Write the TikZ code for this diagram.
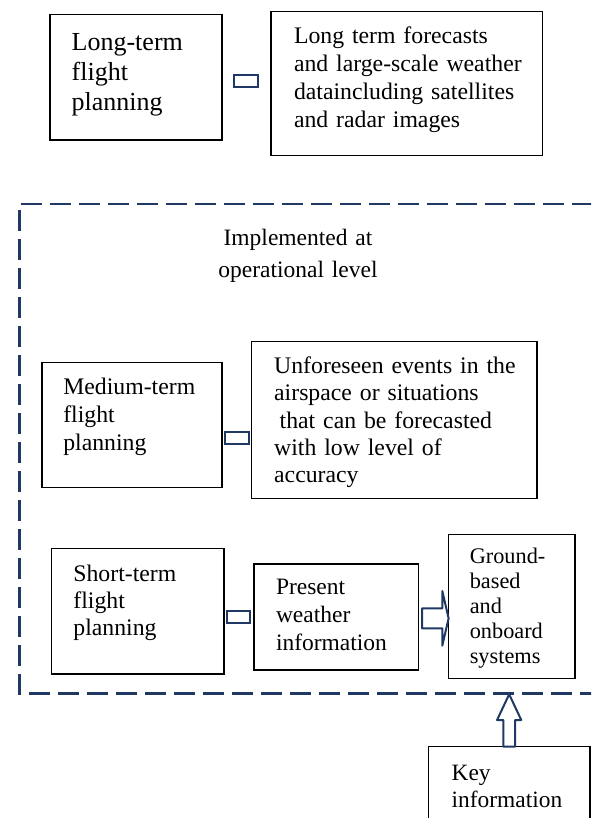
\documentclass[tikz,border=0pt]{standalone}
\usepackage{fontspec}
\setmainfont{Liberation Serif}
\usetikzlibrary{calc}
\definecolor{navy}{HTML}{203864}
\newcommand{\setfs}[2]{\fontsize{#1}{#2}\selectfont}
\tikzset{
  box/.style={draw=black, line width=1.5pt, rectangle, inner ysep=0pt, outer sep=0pt, align=left},
  linkbar/.style={draw=navy, line width=2pt, fill=white, rectangle, inner sep=0pt, outer sep=0pt},
  blockarrow/.style={draw=navy, line width=2pt, fill=white, line join=round},
  framelin/.style={draw=navy, line width=2.5pt, dash pattern=on 21pt off 8pt},
}
\begin{document}
\begin{tikzpicture}[x=1pt,y=-1pt]
\useasboundingbox (0,0) rectangle (591,818);
\clip (0,0) rectangle (591,818);

% dashed frame
\coordinate (ftl) at (20.5,204);
\coordinate (ftr) at (600,204);
\coordinate (flt) at (19.5,210);
\coordinate (fbl) at (19.5,693.3);
\coordinate (fbr) at (600,693.3);
\draw[framelin] (ftl) -- (ftr);
\draw[framelin] (flt) -- (fbl) -- (fbr);

\node[font=\setfs{23.5}{32.3}, text width=200pt, align=center, inner sep=0pt, anchor=base] (impl) at (298,245) {Implemented at\\operational level};

% boxes
\node[box, minimum width=172pt, minimum height=125.3pt, inner xsep=21.7pt, text width=128.6pt,
      text height=36.3pt, text depth=89pt, font=\setfs{26}{29.9}] (lt) at (136,77.35)
      {Long-term\\flight\\planning};
\node[box, minimum width=271.3pt, minimum height=143.6pt, inner xsep=23pt, text width=225.3pt,
      text height=31.6pt, text depth=112pt, font=\setfs{23.75}{28.1}] (lf) at (406.65,83.5)
      {Long term forecasts\\\mbox{and large-scale weather}\\\mbox{dataincluding satellites}\\and radar images};

\node[box, minimum width=180pt, minimum height=125pt, inner xsep=21.3pt, text width=137.4pt,
      text height=31.8pt, text depth=93.2pt, font=\setfs{23.75}{27.8}] (mt) at (132,425.2)
      {Medium-term\\flight\\planning};
\node[box, minimum width=285.6pt, minimum height=156.8pt, inner xsep=22.8pt, text width=240pt,
      text height=31.8pt, text depth=125pt, font=\setfs{23.75}{27.3}] (uf) at (394.2,420.1)
      {\mbox{Unforeseen events in the}\\airspace or situations\\\hspace*{5.5pt}that can be forecasted\\with low level of\\accuracy};

\node[box, minimum width=172.5pt, minimum height=125.5pt, inner xsep=21.7pt, text width=129.1pt,
      text height=32.5pt, text depth=93pt, font=\setfs{23.75}{27.2}] (st) at (137.95,611.25)
      {Short-term\\flight\\planning};
\node[box, minimum width=164.5pt, minimum height=106.2pt, inner xsep=22pt, text width=120.5pt,
      text height=30.8pt, text depth=75.4pt, font=\setfs{23.5}{27.6}] (pw) at (336.25,617.1)
      {Present\\weather\\information};
\node[box, minimum width=126.5pt, minimum height=144pt, inner xsep=21.5pt, text width=83.5pt,
      text height=29.2pt, text depth=114.8pt, font=\setfs{22.3}{25}] (gb) at (511.55,606.3)
      {Ground-\\based\\and\\onboard\\systems};
\node[box, minimum width=161.7pt, minimum height=103.3pt, inner xsep=23.4pt, text width=114.9pt,
      text height=33.3pt, text depth=70pt, font=\setfs{23.4}{27.6}] (ki) at (509.15,798.35)
      {Key\\information};

% small link bars
\node[linkbar, minimum width=23.7pt, minimum height=11.8pt] (l1) at (245.85,81.4) {};
\node[linkbar, minimum width=23.3pt, minimum height=12.7pt] (l2) at (236.85,437.85) {};
\node[linkbar, minimum width=22.4pt, minimum height=12.3pt] (l3) at (238.5,616.85) {};

% block arrow present -> ground
\draw[blockarrow] ([shift={(3.5,-8.8)}]pw.east) -- ++(20.3,0) -- ++(0,-17.3)
  -- ([shift={(0.3,12)}]gb.west) -- ([shift={(-6,39.4)}]gb.west) -- ++(0,-17.4)
  -- ++(-20.3,0) -- cycle;

% block arrow key -> frame
\draw[blockarrow] ([xshift=-5.9pt]ki.north) -- ++(0,-26.7) -- ++(-6.2,0)
  -- ([yshift=-1pt]ki.north |- fbl) -- ([shift={(12.1,-26.7)}]ki.north) -- ++(-6.2,0)
  -- ([xshift=5.9pt]ki.north) -- cycle;
\end{tikzpicture}
\end{document}
